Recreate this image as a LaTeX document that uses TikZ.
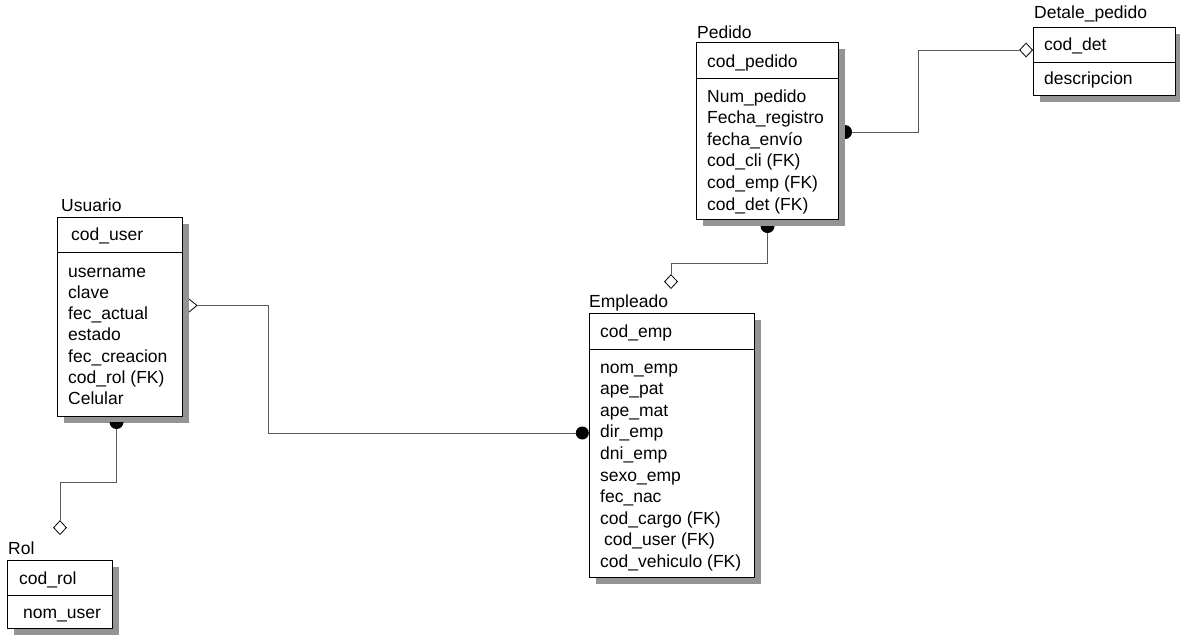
\documentclass[tikz,border=0pt]{standalone}
\usepackage{fontspec}
\setmainfont{Liberation Sans}
\usetikzlibrary{positioning, shapes.geometric, shadows}

\begin{document}
\begin{tikzpicture}[x=1pt, y=-1pt,
    font=\fontsize{17.5}{21}\selectfont,
    entity/.style={draw, fill=white, line width=1pt, anchor=north west, inner sep=0pt,
      drop shadow={shadow xshift=6pt, shadow yshift=-6pt, fill=black!42, opacity=1}},
    rule/.style={line width=1pt},
    title/.style={anchor=base west, inner sep=0pt},
    attr/.style={anchor=base west, inner sep=0pt},
    link/.style={draw=black!65, line width=0.8pt},
    diam/.style={diamond, draw, fill=white, line width=0.8pt, inner sep=0pt,
      minimum width=13pt, minimum height=14pt},
    dot/.style={circle, fill=black, inner sep=0pt, minimum size=13pt}]

  \useasboundingbox (0,0) rectangle (1180,635);

  % Usuario
  \node[entity, minimum width=125pt, minimum height=199pt] (usuario) at (57,217) {};
  \draw[rule] ([yshift=-35pt]usuario.north west) -- ([yshift=-35pt]usuario.north east);
  \node[title] (usuario-t) at (61,211) {Usuario};
  \node[attr] (usuario-k) at (71,240.5) {cod\_user};
  \foreach \t [count=\i] in {username, clave, fec\_actual, estado, fec\_creacion,
      cod\_rol (FK), Celular}
    \node[attr] (usuario-\i) at (68,{277+21.3*(\i-1)}) {\t};

  % Rol
  \node[entity, minimum width=105pt, minimum height=68pt] (rol) at (7,560) {};
  \draw[rule] ([yshift=-35pt]rol.north west) -- ([yshift=-35pt]rol.north east);
  \node[title] (rol-t) at (8,554) {Rol};
  \node[attr] (rol-k) at (19,584) {cod\_rol};
  \node[attr] (rol-1) at (23,618) {nom\_user};

  % Pedido
  \node[entity, minimum width=142pt, minimum height=177pt] (pedido) at (696,42) {};
  \draw[rule] ([yshift=-36pt]pedido.north west) -- ([yshift=-36pt]pedido.north east);
  \node[title] (pedido-t) at (697,38) {Pedido};
  \node[attr] (pedido-k) at (707,67) {cod\_pedido};
  \foreach \t [count=\i] in {Num\_pedido, Fecha\_registro, fecha\_envío, cod\_cli (FK),
      cod\_emp (FK), cod\_det (FK)}
    \node[attr] (pedido-\i) at (707,{102+21.6*(\i-1)}) {\t};

  % Detale_pedido
  \node[entity, minimum width=142pt, minimum height=68pt] (detalle) at (1033,27) {};
  \draw[rule] ([yshift=-35pt]detalle.north west) -- ([yshift=-35pt]detalle.north east);
  \node[title] (detalle-t) at (1034,18.5) {Detale\_pedido};
  \node[attr] (detalle-k) at (1044,50) {cod\_det};
  \node[attr] (detalle-1) at (1044,84) {descripcion};

  % Empleado
  \node[entity, minimum width=165pt, minimum height=264pt] (empleado) at (589,313) {};
  \draw[rule] ([yshift=-36pt]empleado.north west) -- ([yshift=-36pt]empleado.north east);
  \node[title] (empleado-t) at (589,307) {Empleado};
  \node[attr] (empleado-k) at (600,337) {cod\_emp};
  \foreach \t [count=\i] in {nom\_emp, ape\_pat, ape\_mat, dir\_emp, dni\_emp, sexo\_emp,
      fec\_nac, cod\_cargo (FK), \hspace{4pt}cod\_user (FK), cod\_vehiculo (FK)}
    \node[attr] (empleado-\i) at (600,{373+21.6*(\i-1)}) {\t};

  % ends of the relations
  \node[diam, anchor=south] (rol-in) at ([xshift=53pt,yshift=25pt]rol.north west) {};
  \node[diam, anchor=south] (empleado-in) at ([xshift=82pt,yshift=24pt]empleado.north west) {};
  \node[diam, anchor=east] (detalle-in) at ([yshift=-23pt]detalle.north west) {};
  \node[dot, anchor=east] (empleado-dot) at ([yshift=-120pt]empleado.north west) {};

  % Usuario -- Empleado
  \draw[draw=black, line width=0.8pt, fill=white] ([xshift=6pt,yshift=-82pt]usuario.north east)
    -- ++(8,6.5) coordinate (usuario-out) -- ++(-8,6.5);
  \draw[link] (usuario-out) -- ++(71,0) |- (empleado-dot);

  % Usuario -- Rol
  \draw[link] ([xshift=-3.5pt,yshift=-5pt]usuario.south) -- ++(0,60) -| (rol-in);
  \fill ([xshift=-3.5pt,yshift=-5pt]usuario.south) ++(-7,0)
    arc[start angle=180, end angle=0, radius=7] -- cycle;

  % Pedido -- Empleado
  \draw[link] ([yshift=-6pt]pedido.south) -- ++(0,37) -| (empleado-in);
  \fill ([yshift=-6pt]pedido.south) ++(-7,0)
    arc[start angle=180, end angle=0, radius=7] -- cycle;

  % Pedido -- Detale_pedido
  \draw[link] ([xshift=6pt,yshift=-90pt]pedido.north east) -- ++(73,0) |- (detalle-in);
  \fill ([xshift=6pt,yshift=-90pt]pedido.north east) ++(0,-7)
    arc[start angle=-90, end angle=90, radius=7] -- cycle;
\end{tikzpicture}
\end{document}
